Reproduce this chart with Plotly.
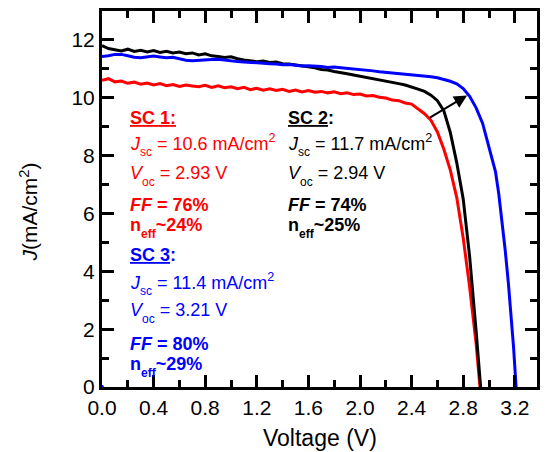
import plotly.graph_objects as go

# J-V curves of three solar cells (voltage in V, current density in mA/cm^2)
v_sc1 = [0.00, 0.05, 0.10, 0.15, 0.20, 0.25, 0.30, 0.35, 0.40, 0.45, 0.50, 0.55, 0.60, 0.65,
         0.70, 0.75, 0.80, 0.85, 0.90, 0.95, 1.00, 1.05, 1.10, 1.15, 1.20, 1.25, 1.30, 1.35,
         1.40, 1.45, 1.50, 1.55, 1.60, 1.65, 1.70, 1.75, 1.80, 1.85, 1.90, 1.95, 2.00, 2.05,
         2.10, 2.15, 2.20, 2.25, 2.30, 2.35, 2.40, 2.45, 2.50, 2.55, 2.60, 2.65, 2.70, 2.75,
         2.80, 2.85, 2.90, 2.93]
j_sc1 = [10.60, 10.66, 10.55, 10.58, 10.50, 10.54, 10.47, 10.51, 10.44, 10.49, 10.42, 10.46,
         10.39, 10.44, 10.41, 10.38, 10.43, 10.36, 10.41, 10.35, 10.38, 10.31, 10.36, 10.28,
         10.33, 10.26, 10.31, 10.25, 10.29, 10.22, 10.27, 10.20, 10.25, 10.19, 10.22, 10.17,
         10.21, 10.14, 10.17, 10.11, 10.13, 10.06, 10.08, 10.02, 9.99, 9.92, 9.90, 9.82,
         9.78, 9.62, 9.45, 9.22, 8.82, 8.22, 7.50, 6.55, 5.15, 3.45, 1.50, 0.00]

v_sc2 = [0.00, 0.05, 0.10, 0.15, 0.20, 0.25, 0.30, 0.35, 0.40, 0.45, 0.50, 0.55, 0.60, 0.65,
         0.70, 0.75, 0.80, 0.85, 0.90, 0.95, 1.00, 1.05, 1.10, 1.15, 1.20, 1.25, 1.30, 1.35,
         1.40, 1.45, 1.50, 1.55, 1.60, 1.65, 1.70, 1.75, 1.80, 1.85, 1.90, 1.95, 2.00, 2.05,
         2.10, 2.15, 2.20, 2.25, 2.30, 2.35, 2.40, 2.45, 2.50, 2.55, 2.60, 2.65, 2.70, 2.75,
         2.80, 2.85, 2.90, 2.935]
j_sc2 = [11.80, 11.70, 11.66, 11.62, 11.68, 11.60, 11.64, 11.58, 11.63, 11.57, 11.61, 11.55,
         11.58, 11.52, 11.55, 11.48, 11.52, 11.45, 11.43, 11.39, 11.42, 11.35, 11.31, 11.28,
         11.25, 11.27, 11.22, 11.24, 11.18, 11.17, 11.14, 11.10, 11.08, 11.04, 10.98, 10.96,
         10.91, 10.88, 10.83, 10.79, 10.75, 10.71, 10.66, 10.62, 10.58, 10.53, 10.49, 10.44,
         10.38, 10.30, 10.22, 10.09, 9.90, 9.55, 8.80, 7.75, 6.50, 4.50, 1.94, 0.00]

v_sc3 = [0.00, 0.05, 0.10, 0.15, 0.20, 0.25, 0.30, 0.35, 0.40, 0.45, 0.50, 0.55, 0.60, 0.65,
         0.70, 0.75, 0.80, 0.85, 0.90, 0.95, 1.00, 1.05, 1.10, 1.15, 1.20, 1.25, 1.30, 1.35,
         1.40, 1.45, 1.50, 1.55, 1.60, 1.65, 1.70, 1.75, 1.80, 1.85, 1.90, 1.95, 2.00, 2.05,
         2.10, 2.15, 2.20, 2.25, 2.30, 2.35, 2.40, 2.45, 2.50, 2.55, 2.60, 2.65, 2.70, 2.75,
         2.80, 2.85, 2.90, 2.95, 3.00, 3.05, 3.075, 3.10, 3.125, 3.15, 3.175, 3.19, 3.21]
j_sc3 = [11.43, 11.45, 11.50, 11.50, 11.45, 11.40, 11.38, 11.42, 11.44, 11.41, 11.38, 11.40,
         11.35, 11.30, 11.28, 11.30, 11.31, 11.32, 11.33, 11.30, 11.28, 11.25, 11.24, 11.22,
         11.22, 11.20, 11.18, 11.17, 11.14, 11.15, 11.12, 11.10, 11.11, 11.10, 11.08, 11.05,
         11.06, 11.04, 11.02, 11.01, 10.99, 10.96, 10.93, 10.90, 10.88, 10.86, 10.85, 10.82,
         10.80, 10.79, 10.77, 10.73, 10.69, 10.64, 10.57, 10.48, 10.32, 10.05, 9.65, 9.12,
         8.32, 7.45, 6.70, 5.75, 4.75, 3.60, 2.30, 1.40, 0.00]

# stray SC 3 sample recorded at the origin
v_sc3_origin = [0.0]
j_sc3_origin = [0.0]

x_ticks = [0.0, 0.4, 0.8, 1.2, 1.6, 2.0, 2.4, 2.8, 3.2]
y_ticks = [0, 2, 4, 6, 8, 10, 12]

RED, BLACK, BLUE = "#ff0000", "#000000", "#0000ff"
FONT = "Liberation Sans, Arial, sans-serif"

fig = go.Figure()
fig.add_trace(go.Scatter(x=v_sc1, y=j_sc1, mode="lines", line=dict(color=RED, width=3)))
fig.add_trace(go.Scatter(x=v_sc2, y=j_sc2, mode="lines", line=dict(color=BLACK, width=3)))
fig.add_trace(go.Scatter(x=v_sc3, y=j_sc3, mode="lines", line=dict(color=BLUE, width=3)))
fig.add_trace(go.Scatter(x=v_sc3_origin, y=j_sc3_origin, mode="markers",
                         marker=dict(color=BLUE, size=4), cliponaxis=False))

# arrow showing the shift of the knee from SC 2 to SC 3
fig.add_annotation(x=2.83, y=10.08, ax=2.53, ay=9.28, xref="x", yref="y",
                   axref="x", ayref="y", text="", showarrow=True,
                   arrowhead=2, arrowsize=1.3, arrowwidth=2, arrowcolor=BLACK)


def sub(s):
    # small, low-set subscript
    return f"<sub><span style='font-size:12px;baseline-shift:-3px'>{s}</span></sub>"


def block(x0, rows, color):
    for y, txt in rows:
        fig.add_annotation(x=x0, y=y, xref="x", yref="y", text=txt, showarrow=False,
                           xanchor="left", yanchor="middle",
                           font=dict(family=FONT, size=18, color=color))


def rows_for(title, jsc, voc, ff, neff, ys):
    return list(zip(ys, [
        title,
        f"<i>J</i>{sub('sc')} = {jsc} mA/cm<sup>2</sup>",
        f"<i>V</i>{sub('oc')} = {voc} V",
        f"<b><i>FF</i> = {ff}%</b>",
        f"<b>n{sub('eff')}~{neff}%</b>",
    ]))


block(0.20, rows_for("<b><u>SC 1:</u></b>", "10.6", "2.93", 76, 24,
                     [9.31, 8.35, 7.30, 6.29, 5.50]), RED)
block(1.425, rows_for("<b><u>SC 2</u>:</b>", "11.7", "2.94", 74, 25,
                      [9.31, 8.35, 7.30, 6.29, 5.50]), BLACK)
block(0.20, rows_for("<b><u>SC 3</u>:</b>", "11.4", "3.21", 80, 29,
                     [4.58, 3.55, 2.55, 1.49, 0.70]), BLUE)

axis_common = dict(showgrid=False, zeroline=False, showline=True, linecolor="black",
                   linewidth=3, mirror="allticks", ticks="inside", ticklen=12,
                   tickwidth=3, tickcolor="black",
                   tickfont=dict(family=FONT, size=21, color="black"))

fig.update_xaxes(range=[0, 3.372], tickvals=x_ticks, ticktext=[f"{t:.1f}" for t in x_ticks],
                 minor=dict(dtick=0.2, tick0=0, ticks="inside", ticklen=7, tickwidth=3,
                            tickcolor="black"),
                 **axis_common)
fig.update_yaxes(range=[0, 13], tickvals=y_ticks,
                 minor=dict(dtick=1, tick0=0, ticks="inside", ticklen=7, tickwidth=3,
                            tickcolor="black"),
                 **axis_common)

fig.add_annotation(x=0.5, y=-0.135, xref="paper", yref="paper", text="Voltage (V)",
                   showarrow=False, xanchor="center", yanchor="middle",
                   font=dict(family=FONT, size=23, color="black"))
fig.add_annotation(x=-0.17, y=0.464, xref="paper", yref="paper",
                   text="<i>J</i>(mA/cm<sup>2</sup>)", textangle=-90,
                   showarrow=False, xanchor="center", yanchor="middle",
                   font=dict(family=FONT, size=21, color="black"))

fig.update_layout(width=549, height=452, margin=dict(l=102, r=12, t=8, b=65),
                  paper_bgcolor="white", plot_bgcolor="white", showlegend=False)

fig.write_html("out.html")
